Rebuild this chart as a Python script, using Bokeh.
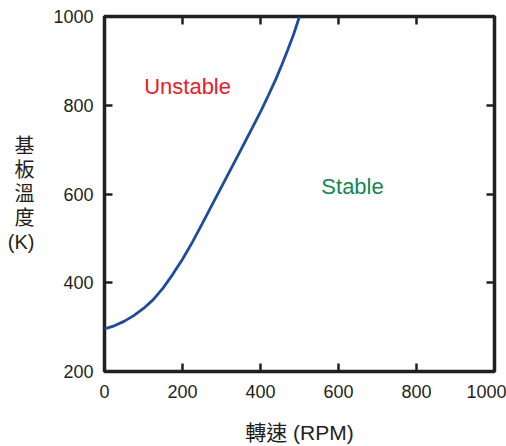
from bokeh.plotting import figure
from bokeh.models import LinearAxis, Range1d, Label, FixedTicker
from bokeh.embed import file_html
from bokeh.resources import INLINE

# Data
rpm = [0, 25, 50, 75, 100, 125, 150, 175, 200, 225, 250, 300, 350, 400, 420, 440, 455, 470, 485, 500]
temp_k = [296, 303, 313, 326, 342, 362, 388, 419, 453, 491, 532, 616, 700, 785, 822, 860, 892, 925, 960, 1000]
x_ticks = [0, 200, 400, 600, 800, 1000]
y_ticks = [200, 400, 600, 800, 1000]
x_title = "轉速 (RPM)"
y_title = "基\n板\n溫\n度\n(K)"
region_labels = ["Unstable", "Stable"]
region_pos_rpm = [213, 636]
region_pos_k = [843, 617]
region_colors = ["#ed1c24", "#13874f"]

FONT = "Liberation Sans, Noto Sans CJK TC"
INK = "#231f20"

p = figure(width=506, height=446, output_backend="svg", toolbar_location=None,
           x_range=Range1d(0, 1000), y_range=Range1d(200, 1000),
           min_border_left=104, min_border_right=12, min_border_top=16, min_border_bottom=71)
p.grid.visible = False
p.outline_line_color = INK
p.outline_line_width = 3.5
p.background_fill_color = "white"
p.border_fill_color = "white"

p.add_layout(LinearAxis(), "above")
p.add_layout(LinearAxis(), "right")

for ax in p.xaxis:
    ax.ticker = FixedTicker(ticks=x_ticks)
for ax in p.yaxis:
    ax.ticker = FixedTicker(ticks=y_ticks)

for ax in p.axis:
    ax.axis_line_color = None
    ax.major_tick_in = 8
    ax.major_tick_out = 0
    ax.major_tick_line_color = INK
    ax.major_tick_line_width = 2.5
    ax.minor_tick_line_color = None
    ax.major_label_text_font = FONT
    ax.major_label_text_font_size = "18px"
    ax.major_label_text_color = INK

# no labels on top/right axes
p.above[0].major_label_overrides = {t: "" for t in x_ticks}
p.above[0].major_label_standoff = 0
p.right[0].major_label_overrides = {t: "" for t in y_ticks}
p.right[0].major_label_standoff = 0

p.below[0].major_label_standoff = 13
p.left[0].major_label_standoff = 11

p.below[0].axis_label = x_title
p.below[0].axis_label_text_font = FONT
p.below[0].axis_label_text_font_size = "21px"
p.below[0].axis_label_text_font_style = "normal"
p.below[0].axis_label_text_color = INK
p.below[0].axis_label_standoff = 20

p.left[0].axis_label = y_title
p.left[0].axis_label_orientation = "horizontal"
p.left[0].axis_label_text_font = FONT
p.left[0].axis_label_text_font_size = "20px"
p.left[0].axis_label_text_font_style = "normal"
p.left[0].axis_label_text_color = INK
p.left[0].axis_label_text_line_height = 1.1
p.left[0].axis_label_text_align = "center"
p.left[0].axis_label_standoff = 16

p.line(rpm, temp_k, line_color="#1d4b9e", line_width=2.8)

for txt, xv, yv, col in zip(region_labels, region_pos_rpm, region_pos_k, region_colors):
    p.add_layout(Label(x=xv, y=yv, text=txt, text_color=col, text_font=FONT,
                       text_font_size="22px", text_align="center", text_baseline="middle"))

open("out.html", "w").write(file_html(p, INLINE))
